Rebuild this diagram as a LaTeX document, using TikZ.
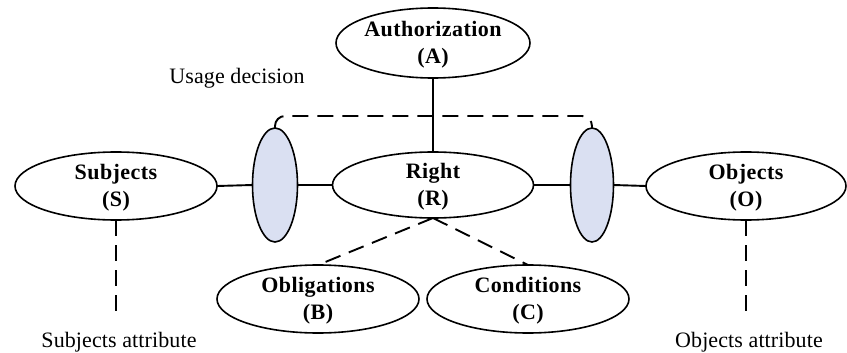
\documentclass[tikz,border=0pt]{standalone}
\usepackage{fontspec}
\setmainfont{Liberation Serif}
\newfontfamily\lblfont[LetterSpace=2]{Liberation Serif}
\newfontfamily\txtfont[LetterSpace=0.5]{Liberation Serif}
\usetikzlibrary{shapes.geometric}
\definecolor{pale}{RGB}{218,224,242}
\begin{document}
\begin{tikzpicture}[x=1pt,y=-1pt,
 ell/.style={draw, ellipse, line width=1.6pt, inner sep=0pt, outer sep=0pt},
 bigell/.style={ell, minimum width=202pt, minimum height=68pt},
 blueell/.style={ell, fill=pale, minimum width=45pt, minimum height=114pt},
 lbl/.style={font=\lblfont\bfseries\fontsize{22}{27}\selectfont, align=center, inner sep=0pt, yshift=-2pt},
 txt/.style={font=\txtfont\fontsize{22}{25}\selectfont, inner sep=0pt},
 conn/.style={line width=1.9pt},
 dconn/.style={line width=1.9pt, dash pattern=on 16pt off 9pt}]
\useasboundingbox (0,0) rectangle (847,353);

\node[bigell, minimum width=194pt, minimum height=70pt] (A) at (433,43) {};
\node[lbl] (At) at (A) {Authorization\\(A)};
\node[bigell, minimum width=201pt, minimum height=66pt] (R) at (433,185) {};
\node[lbl] (Rt) at (R) {Right\\(R)};
\node[bigell] (S) at (116,186) {};
\node[lbl] (St) at (S) {Subjects\\(S)};
\node[bigell, minimum width=200pt] (O) at (746,186) {};
\node[lbl] (Ot) at (O) {Objects\\(O)};
\node[bigell] (B) at (318,299) {};
\node[lbl] (Bt) at (B) {Obligations\\(B)};
\node[bigell] (C) at (528,299) {};
\node[lbl] (Ct) at (C) {Conditions\\(C)};
\node[blueell] (L) at (275,185) {};
\node[blueell, minimum width=43pt] (Rb) at (592,185) {};

\node[txt] (UD) at (237,78) {Usage decision};
\node[txt] (SA) at (119,342) {Subjects attribute};
\node[txt] (OA) at (749,342) {Objects attribute};

\coordinate (top) at (0,116);
\coordinate (sa) at (116,318);
\coordinate (oa) at (746,318);

\draw[conn] (A.south) -- (R.north);
\draw[conn] (S.east) -- (L.west);
\draw[conn] (L.east) -- (R.west);
\draw[conn] (R.east) -- (Rb.west);
\draw[conn] (Rb.east) -- (O.west);
\draw[dconn, rounded corners=10pt] (L.north) |- (Rb.north |- top) -- (Rb.north);
\draw[dconn] (R.south) -- (B.north);
\draw[dconn] (R.south) -- (C.north);
\draw[dconn] (S.south) -- (sa);
\draw[dconn] (O.south) -- (oa);
\end{tikzpicture}
\end{document}
